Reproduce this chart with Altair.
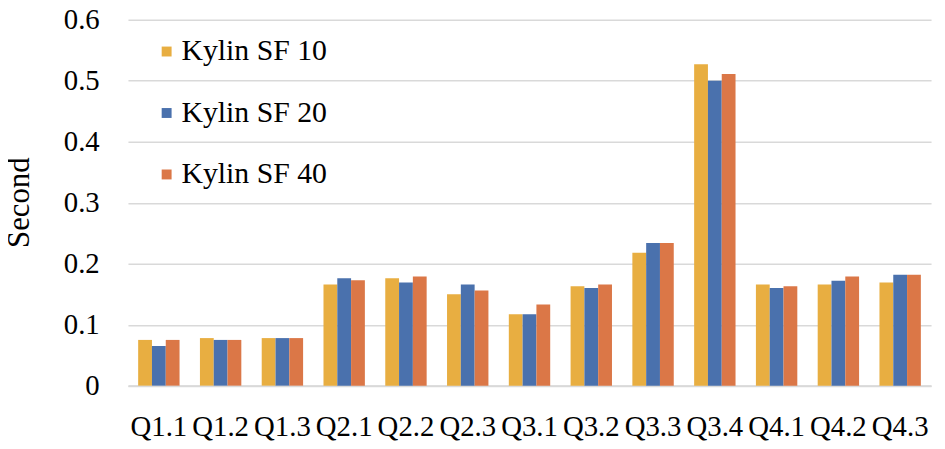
import altair as alt
import pandas as pd

queries = ["Q1.1", "Q1.2", "Q1.3", "Q2.1", "Q2.2", "Q2.3", "Q3.1",
           "Q3.2", "Q3.3", "Q3.4", "Q4.1", "Q4.2", "Q4.3"]
series = ["Kylin SF 10", "Kylin SF 20", "Kylin SF 40"]
sf10 = [0.075, 0.078, 0.078, 0.166, 0.176, 0.150, 0.117,
        0.163, 0.218, 0.527, 0.166, 0.166, 0.169]
sf20 = [0.065, 0.075, 0.078, 0.176, 0.169, 0.166, 0.117,
        0.160, 0.234, 0.500, 0.160, 0.172, 0.182]
sf40 = [0.075, 0.075, 0.078, 0.173, 0.179, 0.156, 0.133,
        0.166, 0.234, 0.511, 0.163, 0.179, 0.182]
colors = ["#E8AE41", "#4A71AD", "#DB7747"]

rows = []
for name, vals in zip(series, [sf10, sf20, sf40]):
    for q, v in zip(queries, vals):
        rows.append({"query": q, "series": name, "seconds": v})
df = pd.DataFrame(rows)

font = "Liberation Serif"

chart = alt.Chart(df).mark_bar().encode(
    x=alt.X("query:N", sort=queries, title=None,
            scale=alt.Scale(paddingInner=0.33, paddingOuter=0.165),
            axis=alt.Axis(labelAngle=0, ticks=False, tickSize=0, labelPadding=50,
                          labelBaseline="alphabetic", labelFontSize=29,
                          labelColor="black", domainColor="#D9D9D9", domainWidth=2)),
    xOffset=alt.XOffset("series:N", sort=series,
                        scale=alt.Scale(paddingInner=0, paddingOuter=0)),
    y=alt.Y("seconds:Q", title="Second",
            scale=alt.Scale(domain=[0, 0.6], nice=False),
            axis=alt.Axis(values=[0, 0.1, 0.2, 0.3, 0.4, 0.5, 0.6], format=".1~f",
                          domain=False, ticks=False, tickSize=0, labelPadding=29,
                          labelFontSize=29, labelColor="black",
                          gridColor="#D9D9D9", gridWidth=1.5,
                          titleFontSize=31, titleFontWeight="normal",
                          titleColor="black", titleAngle=270, titleX=-109, titleY=184,
                          titleAlign="center", titleBaseline="middle")),
    color=alt.Color("series:N", sort=series,
                    scale=alt.Scale(domain=series, range=colors),
                    legend=alt.Legend(title=None, orient="none", legendX=24, legendY=17,
                                      symbolType="square", symbolSize=100,
                                      symbolStrokeWidth=0,
                                      labelFontSize=30, labelColor="black",
                                      labelOffset=0, rowPadding=32, padding=0)),
).properties(
    width=810,
    height=369,
    autosize=alt.AutoSizeParams(type="none"),
    padding={"left": 121, "top": 10, "right": 6, "bottom": 62},
).configure(
    font=font
).configure_axis(
    labelFont=font, titleFont=font
).configure_legend(
    labelFont=font
).configure_view(stroke=None)

chart.save("out.html", embed_options={"renderer": "svg", "actions": False})
